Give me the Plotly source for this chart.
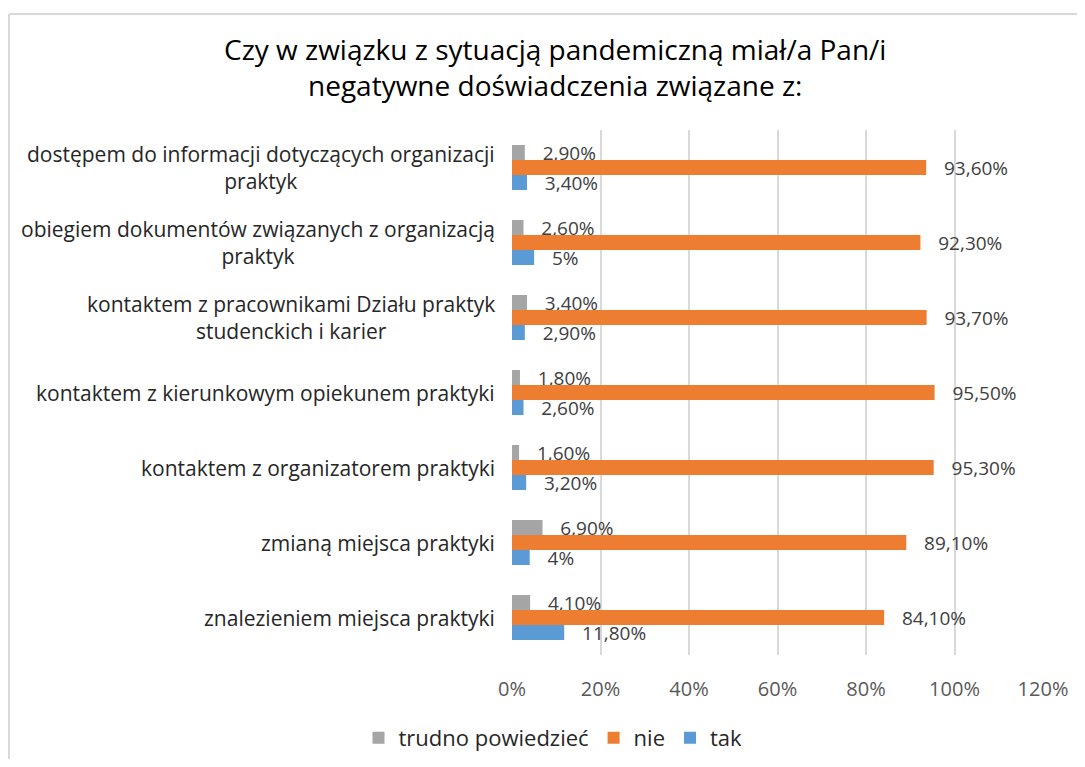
import plotly.graph_objects as go

categories = [
    "dostępem do informacji dotyczących organizacji<br>praktyk",
    "obiegiem dokumentów związanych z organizacją<br>praktyk",
    "kontaktem z pracownikami Działu praktyk<br>studenckich i karier",
    "kontaktem z kierunkowym opiekunem praktyki",
    "kontaktem z organizatorem praktyki",
    "zmianą miejsca praktyki",
    "znalezieniem miejsca praktyki",
]
trudno = [2.9, 2.6, 3.4, 1.8, 1.6, 6.9, 4.1]
nie = [93.6, 92.3, 93.7, 95.5, 95.3, 89.1, 84.1]
tak = [3.4, 5, 2.9, 2.6, 3.2, 4, 11.8]
xticks = [0, 20, 40, 60, 80, 100, 120]
xticklabels = ["0%", "20%", "40%", "60%", "80%", "100%", "120%"]
title_text = ("Czy w związku z sytuacją pandemiczną miał/a Pan/i<br>"
              "negatywne doświadczenia związane z:")

FONT = "Open Sans"
OFF = 8  # default body margin of the html page
FW, FH = 1085 - OFF, 767 - 2 * OFF
# plot area in page pixels (from the reference)
PX0, PX1, PY0, PY1 = 512, 1043, 130, 655
L = PX0 - OFF
R = FW - (PX1 - OFF)
T = PY0 - OFF
B = FH - (PY1 - OFF)
PW, PH = PX1 - PX0, PY1 - PY0


def fmt(v):
    if float(v).is_integer():
        return f"{int(v)}%"
    return f"{v:.2f}".replace(".", ",") + "%"


def px2x(px):
    return (px - PX0) / PW


def py2y(py):
    return (PY1 - py) / PH


fig = go.Figure()
series = [("trudno powiedzieć", trudno, "#A5A5A5"),
          ("nie", nie, "#ED7D31"),
          ("tak", tak, "#5B9BD5")]
for name, vals, col in series:
    fig.add_trace(go.Bar(
        y=categories, x=vals, name=name, orientation="h",
        marker=dict(color=col, line=dict(width=0)),
        text=["\u00a0\u00a0\u00a0" + fmt(v) for v in vals],
        textposition="outside", cliponaxis=False, constraintext="none",
        textfont=dict(family=FONT, size=19, color="#404040"),
        hoverinfo="skip",
    ))

for c in categories:
    fig.add_annotation(x=px2x(497), y=c, xref="paper", yref="y", text=c,
                       showarrow=False, xanchor="right", yanchor="middle",
                       align="center",
                       font=dict(family=FONT, size=21, color="#262626"))

fig.add_annotation(x=px2x(555), y=py2y(67), xref="paper", yref="paper",
                   text=title_text, showarrow=False, xanchor="center",
                   yanchor="middle", align="center",
                   font=dict(family=FONT, size=28, color="#000000"))

fig.add_shape(type="line", xref="paper", yref="paper",
              x0=px2x(9), x1=px2x(1100), y0=py2y(14), y1=py2y(14),
              line=dict(color="#D9D9D9", width=2))
fig.add_shape(type="line", xref="paper", yref="paper",
              x0=px2x(9), x1=px2x(9), y0=py2y(14), y1=py2y(800),
              line=dict(color="#D9D9D9", width=2))

fig.update_layout(
    width=FW, height=FH,
    margin=dict(l=L, r=R, t=T, b=B, autoexpand=False),
    paper_bgcolor="white", plot_bgcolor="white",
    barmode="group", bargap=0.4, bargroupgap=0,
    xaxis=dict(range=[0, 120], tickvals=xticks, ticktext=xticklabels,
               showgrid=True, gridcolor="#D9D9D9", gridwidth=1.5,
               zeroline=False, showline=False, ticks="",
               ticklabelstandoff=20,
               tickfont=dict(family=FONT, size=20, color="#595959")),
    yaxis=dict(autorange="reversed", showticklabels=False, showgrid=False,
               zeroline=False, showline=False, ticks=""),
    legend=dict(orientation="h", x=px2x(553), xanchor="center",
                y=py2y(738), yanchor="middle",
                font=dict(family=FONT, size=22, color="#262626")),
    showlegend=True,
)

fig.write_html("out.html")
